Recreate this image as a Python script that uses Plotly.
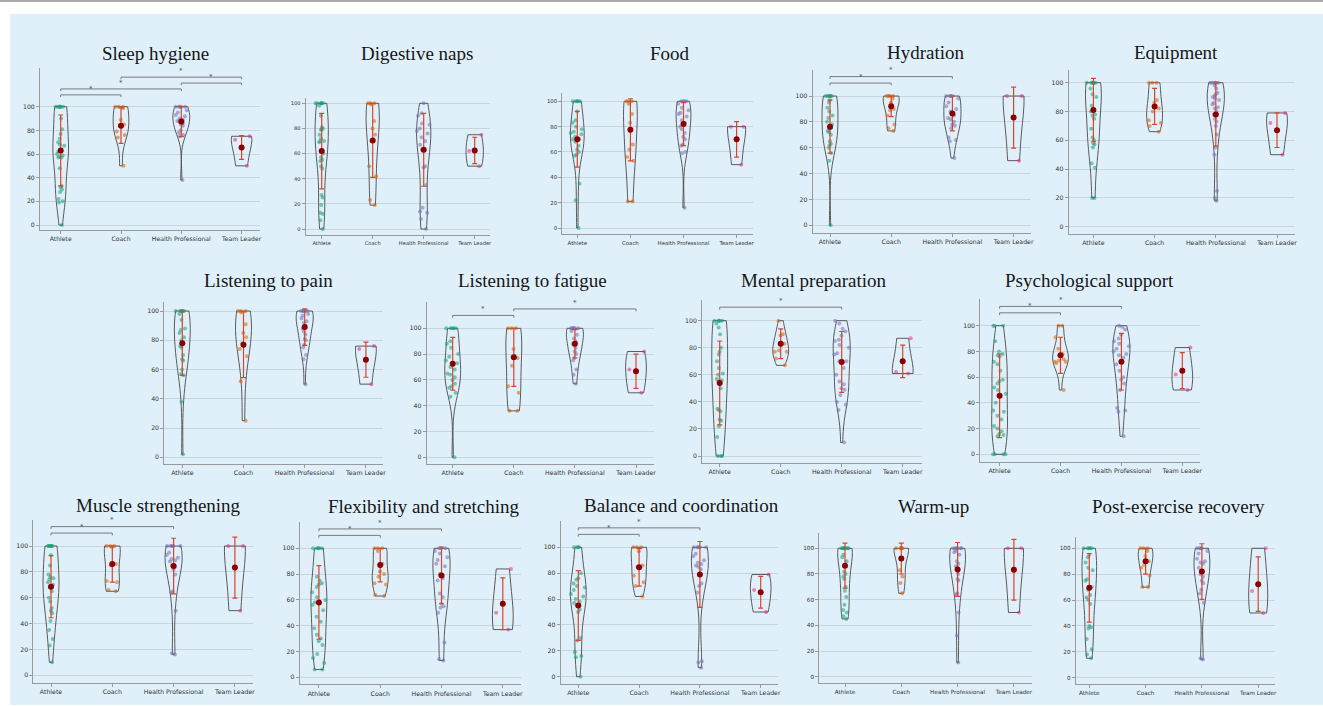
import numpy as np
import plotly.graph_objects as go

W, H = 1323, 706

groups = ["Athlete", "Coach", "Health Professional", "Team Leader"]
group_colors = ["#1b9e77", "#d95f02", "#7570b3", "#e7298a"]

# ---------------- data ----------------
sleep_hygiene = [
    [100,100,100,100,100,100,100,90,81,77,73,70,68,67,62,60,59,58,57,57,48,33,32,30,28,22,20,19,0],
    [100,100,100,99,89,85,84,79,76,74,50],
    [100,100,100,100,100,97,95,93,92,90,89,88,87,86,85,84,80,78,76,75,38],
    [75,72,50],
]
sleep_hygiene_mean = [63, 84, 87.4, 65.5]
sleep_hygiene_sd = [30, 15, 12.7, 10]
sleep_hygiene_sig = [(0, 1), (0, 2), (2, 3), (1, 3)]

digestive_naps = [
    [100,100,100,100,100,100,98,90,81,80,79,79,75,72,70,70,69,60,57,55,54,50,48,27,25,19,13,12,7,0],
    [100,100,100,99,86,80,75,70,50,42,23,19],
    [100,92,90,84,83,80,78,76,73,70,67,63,50,49,35,17,14,13,8,0],
    [75,62,50],
]
digestive_naps_mean = [62, 70.5, 63, 62.5]
digestive_naps_sd = [30, 29.5, 29, 10.5]
digestive_naps_sig = []

food = [
    [100,100,100,100,100,92,85,83,80,78,76,75,74,72,70,70,68,65,62,60,58,57,35,22,0],
    [100,100,100,98,90,83,66,62,56,53,21,21],
    [100,100,100,100,98,95,93,91,90,88,85,83,80,78,75,72,70,66,65,60,59,16],
    [80,80,50],
]
food_mean = [70, 77.5, 82, 70]
food_sd = [22, 24.5, 17, 14]
food_sig = []

hydration = [
    [100,100,100,100,100,100,97,95,91,88,85,83,80,78,75,75,73,72,70,65,63,62,60,56,50,0],
    [100,100,100,100,98,95,90,89,85,78,75,73],
    [100,100,100,100,98,95,92,90,88,85,83,82,80,78,77,75,68,66,65,52],
    [100,100,50],
]
hydration_mean = [76.3, 92, 86.5, 83.3]
hydration_sd = [20.5, 8, 13.5, 23.6]
hydration_sig = [(0, 1), (0, 2)]

equipment = [
    [100,100,100,100,100,100,100,96,92,90,84,80,78,77,75,68,62,60,58,57,55,44,41,20,20],
    [100,100,100,88,86,82,80,74,72,70,66],
    [100,100,100,100,100,100,98,96,93,92,91,90,89,88,86,85,83,82,80,78,75,73,70,64,55,50,25,20,18],
    [79,72,50],
]
equipment_mean = [81, 83.5, 78, 67]
equipment_sd = [22, 12.5, 22, 12]
equipment_sig = []

listening_pain = [
    [100,100,100,100,100,100,98,94,88,87,85,82,80,78,76,75,70,67,66,60,57,56,38,2],
    [100,100,100,99,91,85,82,78,74,69,52,25],
    [100,100,100,100,100,100,98,97,95,93,92,90,88,86,84,81,80,77,75,70,67,50],
    [76,74,50],
]
listening_pain_mean = [78, 77, 89, 66.7]
listening_pain_sd = [22, 22.5, 12.5, 12]
listening_pain_sig = []

listening_fatigue = [
    [100,100,100,100,100,90,88,85,80,78,75,73,70,68,65,64,62,60,57,55,54,50,47,0],
    [100,100,100,84,77,71,55,50,36,36],
    [100,100,100,100,100,100,98,95,92,90,88,87,85,82,80,77,75,68,64,57],
    [82,68,50],
]
listening_fatigue_mean = [72.5, 77.5, 88, 66.7]
listening_fatigue_sd = [20.5, 22.5, 11, 13.3]
listening_fatigue_sig = [(0, 1), (1, 3)]

mental_preparation = [
    [100,100,100,100,100,98,95,90,80,77,75,70,65,61,60,57,56,55,50,35,34,33,27,26,22,14,0,0,0],
    [100,90,89,83,78,77,77,72,67],
    [100,98,94,92,89,86,85,82,80,76,75,70,70,65,60,55,53,50,49,45,40,38,34,10],
    [87,62,61],
]
mental_preparation_mean = [54, 83, 69.5, 70]
mental_preparation_sd = [31, 11, 22.5, 12]
mental_preparation_sig = [(0, 2)]

psychological_support = [
    [100,100,100,88,80,78,77,76,72,70,65,58,57,55,52,50,47,40,34,33,30,27,22,20,18,16,15,14,0,0,0,0],
    [100,100,91,82,78,77,74,73,72,72,71,50],
    [100,99,97,93,90,88,86,84,82,80,78,77,75,70,65,60,58,55,50,36,34,33,14],
    [83,62,50],
]
psychological_support_mean = [45.5, 77, 72, 65]
psychological_support_sd = [32.5, 14, 22, 14]
psychological_support_sig = [(0, 1), (0, 2)]

muscle_strengthening = [
    [100,100,100,100,100,100,93,85,78,76,75,74,72,70,68,65,60,57,52,50,48,42,35,28,23,10],
    [100,100,100,99,86,85,73,72,66,65],
    [100,100,100,100,100,95,93,91,90,89,88,85,84,82,78,65,64,50,17,16],
    [100,100,50],
]
muscle_strengthening_mean = [68.5, 86, 84.5, 83.3]
muscle_strengthening_sd = [24, 14, 21.5, 23.6]
muscle_strengthening_sig = [(0, 1), (0, 2)]

flexibility = [
    [100,100,100,100,100,78,75,73,72,70,66,62,60,58,56,52,47,43,38,33,30,28,25,18,15,11,6,6],
    [100,100,100,98,88,82,80,78,73,72,64,63],
    [100,100,100,98,96,93,91,88,86,80,77,75,65,62,57,55,54,50,27,14,13],
    [84,50,37],
]
flexibility_mean = [58, 87, 79, 57]
flexibility_sd = [28.5, 13, 22, 20]
flexibility_sig = [(0, 1), (0, 2)]

balance = [
    [100,100,100,100,80,76,75,72,70,69,67,64,62,60,58,57,55,52,50,30,28,19,16,15,0],
    [100,100,100,97,86,85,78,73,70,62],
    [100,100,100,100,100,95,93,90,88,87,86,85,83,80,72,70,65,12,11,7],
    [79,67,50],
]
balance_mean = [55, 84.5, 79, 65.3]
balance_sd = [27, 14.5, 25.5, 12.3]
balance_sig = [(0, 1), (0, 2)]

warm_up = [
    [100,100,100,100,100,100,100,100,95,93,90,82,80,78,76,70,67,62,56,52,50,47,45],
    [100,100,100,100,100,100,83,78,73,65],
    [100,100,100,100,100,100,98,97,95,90,88,86,85,80,76,75,65,64,50,32,11],
    [100,100,50],
]
warm_up_mean = [86.5, 92, 83.5, 83.3]
warm_up_sd = [17.5, 12, 21, 23.6]
warm_up_sig = []

post_recovery = [
    [100,100,100,100,100,95,93,89,85,83,76,75,70,68,64,62,60,57,40,39,38,30,22,18,15],
    [100,100,100,98,94,90,87,85,79,70,70],
    [100,100,100,100,98,96,92,90,89,88,85,80,78,75,73,68,65,58,15,14],
    [100,67,50],
]
post_recovery_mean = [69.5, 90, 82, 72.3]
post_recovery_sd = [26.5, 10, 21.5, 21]
post_recovery_sig = []

panels = [
    ("Sleep hygiene", sleep_hygiene, sleep_hygiene_mean, sleep_hygiene_sd, sleep_hygiene_sig),
    ("Digestive naps", digestive_naps, digestive_naps_mean, digestive_naps_sd, digestive_naps_sig),
    ("Food", food, food_mean, food_sd, food_sig),
    ("Hydration", hydration, hydration_mean, hydration_sd, hydration_sig),
    ("Equipment", equipment, equipment_mean, equipment_sd, equipment_sig),
    ("Listening to pain", listening_pain, listening_pain_mean, listening_pain_sd, listening_pain_sig),
    ("Listening to fatigue", listening_fatigue, listening_fatigue_mean, listening_fatigue_sd, listening_fatigue_sig),
    ("Mental preparation", mental_preparation, mental_preparation_mean, mental_preparation_sd, mental_preparation_sig),
    ("Psychological support", psychological_support, psychological_support_mean, psychological_support_sd, psychological_support_sig),
    ("Muscle strengthening", muscle_strengthening, muscle_strengthening_mean, muscle_strengthening_sd, muscle_strengthening_sig),
    ("Flexibility and stretching", flexibility, flexibility_mean, flexibility_sd, flexibility_sig),
    ("Balance and coordination", balance, balance_mean, balance_sd, balance_sig),
    ("Warm-up", warm_up, warm_up_mean, warm_up_sd, warm_up_sig),
    ("Post-exercise recovery", post_recovery, post_recovery_mean, post_recovery_sd, post_recovery_sig),
]

# ---------------- geometry (pixel layout of each panel) ----------------
# A: x of first category, S: category spacing, L/R: axis left/right,
# T/B: axis top/bottom, p100/p0: pixel rows of y=100 and y=0, tx/ty: title centre
geom = [
    dict(A=60.7, S=60.3, L=40, R=260, T=68, B=230, p100=106.7, p0=225, tx=155, ty=53),
    dict(A=321.7, S=51, L=305.7, R=490, T=98, B=235, p100=103.3, p0=229, tx=416.7, ty=53),
    dict(A=577.3, S=53.1, L=562.3, R=753, T=92.7, B=234.3, p100=101.3, p0=228, tx=670, ty=53),
    dict(A=830, S=61.2, L=812.7, R=1031.4, T=70, B=232.7, p100=96, p0=225.3, tx=926.3, ty=52.7),
    dict(A=1093.4, S=61.2, L=1068.6, R=1294.8, T=70, B=234, p100=82.7, p0=226.7, tx=1176, ty=52.7),
    dict(A=182.3, S=61.2, L=164.3, R=382.7, T=301.7, B=464, p100=311, p0=457.3, tx=268.8, ty=280.7),
    dict(A=452.7, S=61.1, L=426.7, R=653.9, T=301.7, B=464, p100=328.3, p0=457.3, tx=532.8, ty=280.7),
    dict(A=719.7, S=61, L=702.1, R=921.9, T=300, B=462.7, p100=320.7, p0=456, tx=813.7, ty=280.7),
    dict(A=999.6, S=60.9, L=980.3, R=1200, T=299.3, B=461.7, p100=325.7, p0=454.3, tx=1089, ty=280.7),
    dict(A=51, S=61.3, L=33.4, R=253, T=520, B=682.7, p100=546, p0=675.3, tx=158.4, ty=505),
    dict(A=318.9, S=61.3, L=299.6, R=520.7, T=521.7, B=684.3, p100=548.3, p0=677.3, tx=423.6, ty=506.7),
    dict(A=578.3, S=60.8, L=560.7, R=778.3, T=520.7, B=684, p100=547.3, p0=676.7, tx=681.7, ty=505),
    dict(A=845, S=56.3, L=819.3, R=1031.7, T=533.3, B=683.3, p100=548.3, p0=676.7, tx=933.3, ty=506),
    dict(A=1089.3, S=56.3, L=1075.7, R=1275, T=537.3, B=684.3, p100=548.3, p0=677.7, tx=1178.3, ty=506),
]

violin_widths = [0.26, 0.26, 0.28, 0.34]
yticks = [0, 20, 40, 60, 80, 100]

fig = go.Figure()
layout = {}
shapes = []
annotations = []

shapes.append(dict(type="rect", xref="paper", yref="paper", x0=10 / W, x1=1, y0=1 / H, y1=1 - 14 / H,
                   fillcolor="#e0f0fa", line=dict(width=0), layer="below"))
shapes.append(dict(type="line", xref="paper", yref="paper", x0=0, x1=1, y0=1 - 1 / H, y1=1 - 1 / H,
                   line=dict(color="#aaaaaa", width=2), layer="below"))

for k, ((title, vals, means, sds, sig), g) in enumerate(zip(panels, geom), start=1):
    xa = "x" if k == 1 else f"x{k}"
    ya = "y" if k == 1 else f"y{k}"
    unit = (g["p0"] - g["p100"]) / 100.0
    ymax = (g["p0"] - g["T"]) / unit
    ymin = (g["p0"] - g["B"]) / unit
    xmin = (g["L"] - g["A"]) / g["S"]
    xmax = (g["R"] - g["A"]) / g["S"]
    tfs = round(6.2 * g["S"] / 61.0, 2)

    layout["xaxis" if k == 1 else f"xaxis{k}"] = dict(
        domain=[g["L"] / W, g["R"] / W], range=[xmin, xmax], anchor=ya,
        tickmode="array", tickvals=list(range(len(groups))), ticktext=groups, tickangle=0,
        automargin=False,
        showline=True, linecolor="#9a9a9a", linewidth=1, ticks="outside", ticklen=3,
        tickcolor="#9a9a9a", showgrid=False, zeroline=False, fixedrange=True,
        tickfont=dict(family="DejaVu Sans", size=tfs, color="#333333"))
    layout["yaxis" if k == 1 else f"yaxis{k}"] = dict(
        domain=[1 - g["B"] / H, 1 - g["T"] / H], range=[ymin, ymax], anchor=xa,
        tickmode="array", tickvals=yticks, showline=True, linecolor="#9a9a9a", linewidth=1,
        automargin=False,
        ticks="outside", ticklen=3, tickcolor="#9a9a9a", showgrid=True, gridcolor="#c9d5dc",
        gridwidth=1, zeroline=False, fixedrange=True,
        tickfont=dict(family="DejaVu Sans", size=tfs, color="#333333"))

    for j, v in enumerate(vals):
        arr = np.array(v, dtype=float)
        bw = float(np.std(arr, ddof=1) * len(arr) ** (-0.2))
        fig.add_trace(go.Violin(
            x=[j] * len(v), y=v, xaxis=xa, yaxis=ya, width=violin_widths[j],
            scalemode="width", spanmode="hard", bandwidth=bw,
            points="all", pointpos=0, jitter=1.0,
            line=dict(color="#4a4a4a", width=0.9), fillcolor="rgba(0,0,0,0)",
            marker=dict(color=group_colors[j], size=4, opacity=0.55, line=dict(width=0)),
            box_visible=False, meanline_visible=False, showlegend=False, hoverinfo="skip"))

    fig.add_trace(go.Scatter(
        x=list(range(len(groups))), y=means, xaxis=xa, yaxis=ya, mode="markers",
        marker=dict(color="#8b0000", size=6),
        error_y=dict(type="data", array=sds, color="#d9452b", thickness=1.2, width=2.5),
        showlegend=False, hoverinfo="skip"))

    for lvl, (i0, i1) in enumerate(sig):
        h = 110 + 5 * lvl
        shapes.append(dict(type="path", xref=xa, yref=ya,
                           path=f"M {i0},{h - 1.8} L {i0},{h} L {i1},{h} L {i1},{h - 1.8}",
                           line=dict(color="#7a7a7a", width=1)))
        annotations.append(dict(x=(i0 + i1) / 2, y=h + 0.3, xref=xa, yref=ya, text="*",
                                showarrow=False, yanchor="bottom",
                                font=dict(size=7, color="#555555", family="DejaVu Sans")))

    annotations.append(dict(x=g["tx"] / W, y=1 - g["ty"] / H, xref="paper", yref="paper",
                            text=title, showarrow=False, xanchor="center", yanchor="middle",
                            font=dict(family="Liberation Serif", size=19, color="#161616")))

fig.update_layout(
    width=W, height=H, autosize=False, margin=dict(l=0, r=0, t=0, b=0, pad=0, autoexpand=False),
    paper_bgcolor="white", plot_bgcolor="rgba(0,0,0,0)", violinmode="overlay",
    shapes=shapes, annotations=annotations, showlegend=False, **layout)

fig.write_html("out.html", config={"displayModeBar": False})
